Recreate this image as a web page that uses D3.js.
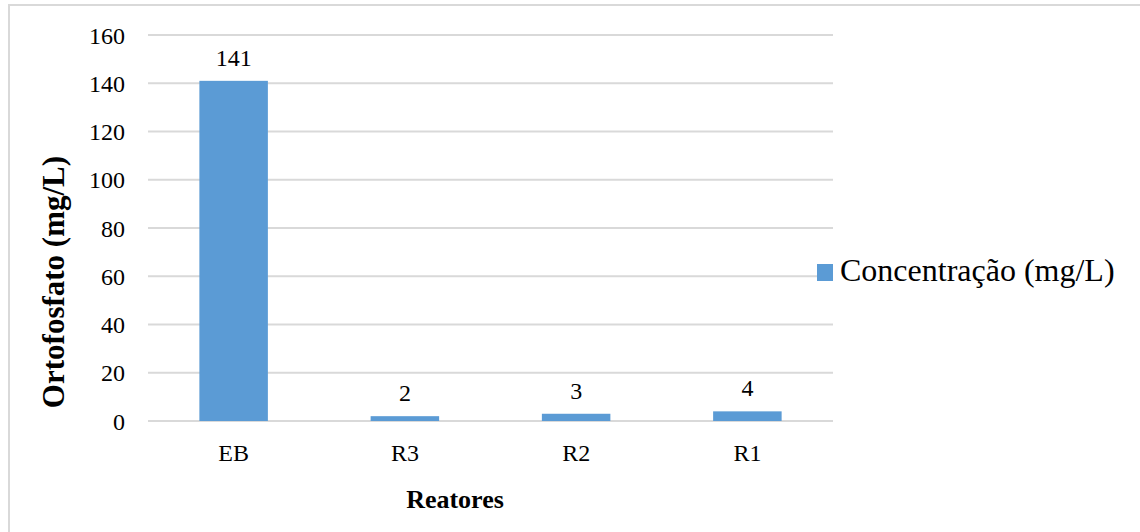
<!DOCTYPE html>
<html>
<head>
<meta charset="utf-8">
<script src="https://cdn.jsdelivr.net/npm/d3@7"></script>
<style>
  html, body { margin: 0; padding: 0; background: #fff; }
  svg { display: block; }
</style>
</head>
<body>
<svg id="chart" width="1140" height="532"></svg>
<script>
// Orthophosphate concentration per reactor
const categories = ["EB", "R3", "R2", "R1"];
const values = [141, 2, 3, 4];
const yTicks = [0, 20, 40, 60, 80, 100, 120, 140, 160];
const seriesName = "Concentração (mg/L)";
const yTitle = "Ortofosfato (mg/L)";
const xTitle = "Reatores";

const serif = "'Liberation Serif', 'Times New Roman', serif";
const svg = d3.select("#chart");
const barColor = "#5b9bd5";
const gridColor = "#d9d9d9";

// chart frame (left and top edges visible)
svg.append("path")
  .attr("d", "M9,540 V5 H1150")
  .attr("fill", "none")
  .attr("stroke", gridColor)
  .attr("stroke-width", 2);

const plot = { left: 148, right: 833, top: 35, bottom: 421 };

const x = d3.scaleBand()
  .domain(categories)
  .range([plot.left, plot.right])
  .paddingInner(0.6)
  .paddingOuter(0.3);

const y = d3.scaleLinear()
  .domain([0, 160])
  .range([plot.bottom, plot.top]);

// horizontal gridlines
svg.append("g")
  .selectAll("line")
  .data(yTicks)
  .join("line")
  .attr("x1", plot.left)
  .attr("x2", plot.right)
  .attr("y1", d => y(d))
  .attr("y2", d => y(d))
  .attr("stroke", gridColor)
  .attr("stroke-width", 2);

// y axis tick labels
const yAxis = d3.axisLeft(y).tickValues(yTicks).tickSize(0).tickPadding(0);
const gy = svg.append("g")
  .attr("transform", `translate(125,0)`)
  .call(yAxis);
gy.select(".domain").remove();
gy.selectAll("text")
  .style("font-family", serif)
  .style("font-size", "24px")
  .attr("fill", "#000")
  .attr("dy", "0.34em");

// x axis category labels
const xAxis = d3.axisBottom(x).tickSize(0).tickPadding(0);
const gx = svg.append("g")
  .attr("transform", `translate(0,${plot.bottom})`)
  .call(xAxis);
gx.select(".domain").remove();
gx.selectAll("text")
  .style("font-family", serif)
  .style("font-size", "24px")
  .attr("fill", "#000")
  .attr("dy", null)
  .attr("y", 40);

// bars
svg.append("g")
  .selectAll("rect")
  .data(values)
  .join("rect")
  .attr("x", (d, i) => x(categories[i]))
  .attr("width", x.bandwidth())
  .attr("y", d => y(d))
  .attr("height", d => y(0) - y(d))
  .attr("fill", barColor);

// value labels
svg.append("g")
  .selectAll("text")
  .data(values)
  .join("text")
  .attr("x", (d, i) => x(categories[i]) + x.bandwidth() / 2)
  .attr("y", d => y(d) - 15)
  .attr("text-anchor", "middle")
  .style("font-family", serif)
  .style("font-size", "24px")
  .text(d => d);

// axis titles
svg.append("text")
  .attr("transform", `translate(64,${(plot.top + plot.bottom) / 2 + 54}) rotate(-90)`)
  .attr("text-anchor", "middle")
  .style("font-family", serif)
  .style("font-size", "31px")
  .style("font-weight", "bold")
  .text(yTitle);

svg.append("text")
  .attr("x", 455)
  .attr("y", 508)
  .attr("text-anchor", "middle")
  .style("font-family", serif)
  .style("font-size", "26px")
  .style("font-weight", "bold")
  .text(xTitle);

// legend
const legend = svg.append("g").attr("transform", "translate(817,264)");
legend.append("rect")
  .attr("width", 16)
  .attr("height", 17)
  .attr("fill", barColor);
legend.append("text")
  .attr("x", 23)
  .attr("y", 17)
  .style("font-family", serif)
  .style("font-size", "32px")
  .text(seriesName);
</script>
</body>
</html>
